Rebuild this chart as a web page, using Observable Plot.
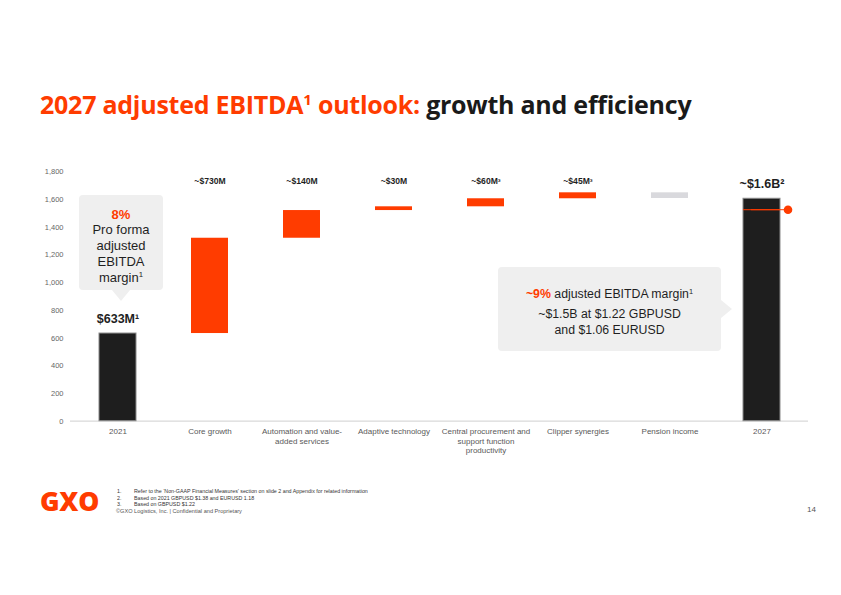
<!DOCTYPE html>
<html>
<head>
<meta charset="utf-8">
<script src="https://cdn.jsdelivr.net/npm/d3@7"></script>
<script src="https://cdn.jsdelivr.net/npm/@observablehq/plot@0.6"></script>
<style>
  html, body { margin: 0; padding: 0; background: #fff; }
  #page { position: relative; width: 841px; height: 595px; overflow: hidden; font-family: "Liberation Sans", Arial, sans-serif; }
  #chart { position: absolute; left: 0; top: 0; }
  .abs { position: absolute; white-space: nowrap; }
  #title { left: 40px; top: 87px; font-family: "Open Sans", sans-serif; font-weight: 700; font-size: 25px; letter-spacing: -0.25px; color: #1a1a1a; }
  #title .o { color: #FF3C00; }
  sup { font-size: 0.6em; line-height: 0; vertical-align: 0.6em; }
  .box { position: absolute; background: #efefef; border-radius: 4px; text-align: center; color: #1f1f1f; }
  .orange { color: #FF3C00; font-weight: 700; }
  #box1 { left: 79px; top: 195px; width: 84px; height: 95px; font-size: 13px; line-height: 15.8px; padding-top: 11.5px; box-sizing: border-box; }
  #box1:after { content: ""; position: absolute; left: 33px; bottom: -11px; border-left: 9px solid transparent; border-right: 9px solid transparent; border-top: 11px solid #efefef; }
  #box2 { left: 498px; top: 267px; width: 223px; height: 84px; font-size: 12.3px; line-height: 16px; padding-top: 18.5px; box-sizing: border-box; }
  #box2:after { content: ""; position: absolute; right: -11px; top: 33px; border-top: 9px solid transparent; border-bottom: 9px solid transparent; border-left: 11px solid #efefef; }
  #box2 .l1 { margin-bottom: 4px; }
  #logo { left: 40px; top: 483px; font-family: "Open Sans", sans-serif; font-weight: 800; font-size: 26.5px; color: #FF3C00; letter-spacing: -0.3px; }
  .fn { font-size: 5.3px; color: #333; }
  #page14 { left: 807px; top: 505px; font-size: 8px; color: #555; }
</style>
</head>
<body>
<div id="page">
  <div id="chart"></div>
  <div id="title" class="abs"><span class="o">2027 adjusted EBITDA<sup>1</sup> outlook:</span> growth and efficiency</div>
  <div id="box1" class="box"><span class="orange">8%</span><br>Pro forma<br>adjusted<br>EBITDA<br>margin<sup>1</sup></div>
  <div id="box2" class="box"><div class="l1"><span class="orange">~9%</span> adjusted EBITDA margin<sup>1</sup></div>~$1.5B at $1.22 GBPUSD<br>and $1.06 EURUSD</div>
  <div id="logo" class="abs">GXO</div>
  <div class="abs fn" style="left:117px;top:488px">1.</div>
  <div class="abs fn" style="left:134px;top:488px">Refer to the ‘Non-GAAP Financial Measures’ section on slide 2 and Appendix for related information</div>
  <div class="abs fn" style="left:117px;top:494.5px">2.</div>
  <div class="abs fn" style="left:134px;top:494.5px">Based on 2021 GBPUSD $1.38 and EURUSD 1.18</div>
  <div class="abs fn" style="left:117px;top:501px">3.</div>
  <div class="abs fn" style="left:134px;top:501px">Based on GBPUSD $1.22</div>
  <div class="abs fn" style="left:116px;top:507.5px;color:#555;font-size:5.6px">©GXO Logistics, Inc. | Confidential and Proprietary</div>
  <div id="page14" class="abs">14</div>
</div>
<script>
const categories = ["2021", "Core growth", "Automation and value-added services", "Adaptive technology", "Central procurement and support function productivity", "Clipper synergies", "Pension income", "2027"];
const tickLabels = ["2021", "Core growth", "Automation and value-\nadded services", "Adaptive technology", "Central procurement and\nsupport function\nproductivity", "Clipper synergies", "Pension income", "2027"];
const startValues = [0, 633, 1321, 1521, 1548, 1606, 1649, 0];
const endValues = [633, 1321, 1521, 1548, 1606, 1649, 1608, 1606];
const kinds = ["total", "up", "up", "up", "up", "up", "down", "total"];
const stepLabels = ["", "~$730M", "~$140M", "~$30M", "~$60M³", "~$45M³", "", ""];
const totalLabels = ["$633M¹", "", "", "", "", "", "", "~$1.6B²"];
const yTicks = [0, 200, 400, 600, 800, 1000, 1200, 1400, 1600, 1800];
const constantCurrencyCategory = ["2027"];
const constantCurrencyValue = [1527];

const data = categories.map((c, i) => ({
  cat: c, tick: tickLabels[i], y1: startValues[i], y2: endValues[i], kind: kinds[i],
  step: stepLabels[i], total: totalLabels[i]
}));
const tickMap = new Map(data.map(d => [d.cat, d.tick]));
const fillColor = {total: "#1e1e1e", up: "#FF3C00", down: "#d9d9dd"};
const cc = constantCurrencyCategory.map((c, i) => ({cat: c, v: constantCurrencyValue[i]}));

const chart = Plot.plot({
  width: 841,
  height: 595,
  marginLeft: 70,
  marginRight: 33,
  marginTop: 171.4,
  marginBottom: 174.3,
  style: {fontFamily: "'Liberation Sans', Arial, sans-serif", background: "transparent", overflow: "visible"},
  x: {domain: categories, paddingInner: 0.6, paddingOuter: 0.3, axis: null},
  y: {domain: [0, 1800], axis: null},
  marks: [
    Plot.ruleY([0], {stroke: "#d9d9d9", strokeWidth: 1.2}),
    Plot.axisY({ticks: yTicks, tickSize: 0, tickPadding: 7, tickFormat: d3.format(","), fontSize: 7.5, color: "#666", label: null}),
    Plot.axisX({tickSize: 0, tickPadding: 6.5, tickFormat: d => tickMap.get(d), fontSize: 8, lineHeight: 1.18, color: "#595959", label: null}),
    Plot.barY(data, {x: "cat", y1: "y1", y2: "y2", fill: d => fillColor[d.kind], stroke: d => d.kind === "total" ? "#8a8a8a" : "none", strokeWidth: 1, insetLeft: 0, insetRight: 0}),
    Plot.text(data.filter(d => d.step), {x: "cat", text: "step", frameAnchor: "top", dy: 6, fontSize: 8.6, fontWeight: "bold", fill: "#1f1f1f"}),
    Plot.text(data.filter(d => d.total), {x: "cat", y: "y2", text: "total", dy: -15, fontSize: 12.5, fontWeight: "bold", fill: "#1f1f1f"}),
    Plot.tickY(cc, {x: "cat", y: "v", stroke: "#FF3C00", strokeWidth: 1}),
    Plot.tickY(cc, {x: "cat", y: "v", stroke: "#FF3C00", strokeWidth: 1, dx: 8}),
    Plot.dot(cc, {x: "cat", y: "v", dx: 26, r: 4.3, fill: "#FF3C00", stroke: "none"})
  ]
});
document.getElementById("chart").appendChild(chart);
</script>
</body>
</html>
